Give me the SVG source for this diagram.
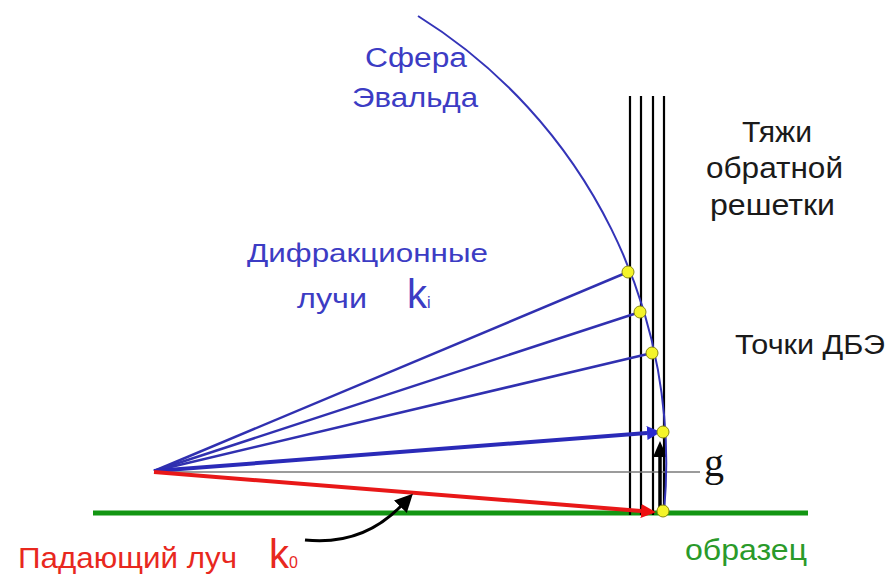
<svg xmlns="http://www.w3.org/2000/svg" width="889" height="576" viewBox="0 0 889 576">
<style>
.t{font-family:"Liberation Sans",Arial,sans-serif}
.blue{fill:#3c3cc4}
.blk{fill:#1a1a1a}
.red{fill:#e8281e}
.grn{fill:#2a9a2a}
.ray{stroke:#3030b0;stroke-width:2.5;fill:none}
.rod{stroke:#000;stroke-width:2.2}
.pt{fill:#f4f42a;stroke:#8a8a10;stroke-width:1}
</style>
<defs>
<marker id="ahBlue" markerUnits="userSpaceOnUse" markerWidth="20" markerHeight="20" refX="0" refY="7" orient="auto"><polygon points="0,0 14,7 0,14" fill="#2a2ad0"/></marker>
<marker id="ahRed" markerUnits="userSpaceOnUse" markerWidth="20" markerHeight="20" refX="0" refY="7" orient="auto"><polygon points="0,0 15,7 0,14" fill="#ee1010"/></marker>
<marker id="ahBlk" markerUnits="userSpaceOnUse" markerWidth="20" markerHeight="20" refX="0" refY="7" orient="auto"><polygon points="0,0 16,7 0,14" fill="#000"/></marker>
<marker id="ahCurve" markerUnits="userSpaceOnUse" markerWidth="22" markerHeight="22" refX="1" refY="9" orient="auto"><polygon points="0,0 18,9 0,18" fill="#000"/></marker>
</defs>

<g id="sample">
<line x1="93" y1="513" x2="808" y2="513" stroke="#139613" stroke-width="5"/>
</g>

<g id="rods">
<line class="rod" x1="630" y1="96" x2="630" y2="515"/>
<line class="rod" x1="641" y1="96" x2="641" y2="515"/>
<line class="rod" x1="653" y1="96" x2="653" y2="515"/>
<line class="rod" x1="664" y1="96" x2="664" y2="515"/>
</g>

<g id="connectors">
<line x1="154" y1="472" x2="700" y2="472" stroke="#7a7a7a" stroke-width="1.5"/>
<line class="ray" x1="154" y1="471" x2="628" y2="272"/>
<line class="ray" x1="154" y1="471" x2="640" y2="312"/>
<line class="ray" x1="154" y1="471" x2="652" y2="353"/>
<line x1="154" y1="471" x2="647" y2="433" stroke="#2a2ab8" stroke-width="4" marker-end="url(#ahBlue)"/>
<line x1="154" y1="472" x2="641" y2="511" stroke="#e81818" stroke-width="4" marker-end="url(#ahRed)"/>
<line x1="660" y1="510" x2="660" y2="457" stroke="#000" stroke-width="3.5" marker-end="url(#ahBlk)"/>
<path d="M305,540 Q362,546 401,506" fill="none" stroke="#000" stroke-width="3" marker-end="url(#ahCurve)"/>
</g>

<g id="ewald-sphere">
<path d="M418,16 A527,527 0 0,1 664,512" fill="none" stroke="#3434b8" stroke-width="2"/>
</g>

<g id="points">
<circle class="pt" cx="628" cy="272" r="6"/>
<circle class="pt" cx="640" cy="312" r="6"/>
<circle class="pt" cx="652" cy="353" r="6"/>
<circle class="pt" cx="663" cy="432" r="6"/>
<circle class="pt" cx="663" cy="511" r="6"/>
</g>

<g id="labels">
<text class="t blue" x="365" y="67" font-size="27" textLength="102" lengthAdjust="spacingAndGlyphs">Сфера</text>
<text class="t blue" x="352" y="107" font-size="28" textLength="126" lengthAdjust="spacingAndGlyphs">Эвальда</text>
<text class="t blue" x="247" y="262" font-size="26" textLength="241" lengthAdjust="spacingAndGlyphs">Дифракционные</text>
<text class="t blue" x="297" y="308" font-size="27" textLength="70" lengthAdjust="spacingAndGlyphs">лучи</text>
<text class="t blue" x="407" y="308" font-size="40">k<tspan font-size="16">i</tspan></text>
<text class="t blk" x="742" y="142" font-size="29" textLength="70" lengthAdjust="spacingAndGlyphs">Тяжи</text>
<text class="t blk" x="706" y="178" font-size="29" textLength="137" lengthAdjust="spacingAndGlyphs">обратной</text>
<text class="t blk" x="710" y="215" font-size="29" textLength="125" lengthAdjust="spacingAndGlyphs">решетки</text>
<text class="t blk" x="735" y="354" font-size="27" textLength="150" lengthAdjust="spacingAndGlyphs">Точки ДБЭ</text>
<text font-family="Liberation Serif,serif" x="704" y="476" font-size="40" fill="#111">g</text>
<text class="t red" x="18" y="568" font-size="30" textLength="219" lengthAdjust="spacingAndGlyphs">Падающий луч</text>
<text class="t red" x="269" y="568" font-size="40">k<tspan font-size="16">0</tspan></text>
<text class="t grn" x="685" y="560" font-size="30" textLength="122" lengthAdjust="spacingAndGlyphs">образец</text>
</g>
</svg>
